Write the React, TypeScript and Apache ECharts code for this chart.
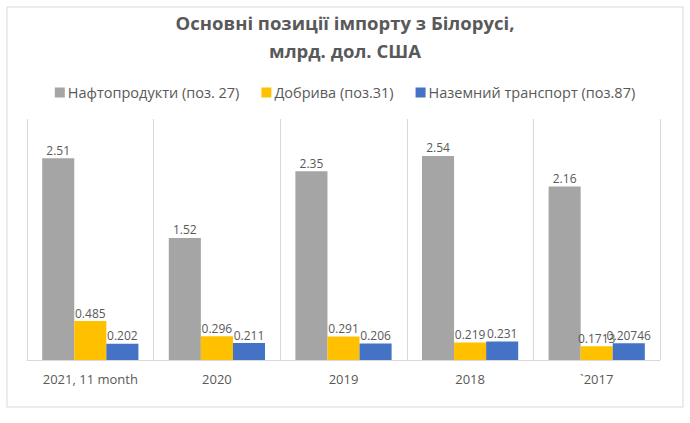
import React, { useEffect, useRef } from "react";
import * as echarts from "echarts";

const categories = ["2021, 11 month", "2020", "2019", "2018", "`2017"];
const oilProducts = [2.51, 1.52, 2.35, 2.54, 2.16];
const fertilizers = [0.485, 0.296, 0.291, 0.219, 0.1713];
const landTransport = [0.202, 0.211, 0.206, 0.231, 0.20746];
const seriesNames = [
  "Нафтопродукти (поз. 27)",
  "Добрива (поз.31)",
  "Наземний транспорт (поз.87)",
];
const colors = ["#A5A5A5", "#FFC000", "#4472C4"];
const FONT = "'Open Sans', 'Noto Sans', sans-serif";

export default function App() {
  const ref = useRef<HTMLDivElement>(null);
  useEffect(() => {
    if (!ref.current) return;
    const chart = echarts.init(ref.current, undefined, { renderer: "svg" });
    const label = {
      show: true,
      position: "top" as const,
      distance: 2,
      color: "#595959",
      fontSize: 12,
      fontFamily: FONT,
    };
    const datasets = [oilProducts, fertilizers, landTransport];
    chart.setOption({
      animation: false,
      backgroundColor: "#ffffff",
      color: colors,
      title: {
        text: "Основні позиції імпорту з Білорусі,\nмлрд. дол. США",
        left: "center",
        top: 3,
        textStyle: {
          fontFamily: FONT,
          fontSize: 18.5,
          fontWeight: "bold",
          color: "#595959",
          lineHeight: 28,
        },
      },
      legend: {
        top: 80,
        left: "center",
        itemWidth: 10,
        itemHeight: 10,
        itemGap: 22,
        icon: "rect",
        textStyle: { fontFamily: FONT, fontSize: 14.5, color: "#595959", padding: [0, 0, 0, -2] },
        data: seriesNames,
      },
      graphic: [
        {
          type: "rect",
          shape: { x: 7, y: 7, width: 676, height: 400 },
          style: { fill: "none", stroke: "#d9d9d9", lineWidth: 1 },
          silent: true,
        },
      ],
      grid: { left: 27, right: 30, top: 119, bottom: 63 },
      xAxis: {
        type: "category",
        data: categories,
        axisLine: { show: true, lineStyle: { color: "#d9d9d9" } },
        axisTick: { show: false },
        splitLine: { show: true, lineStyle: { color: "#d9d9d9" } },
        axisLabel: {
          color: "#595959",
          fontSize: 13,
          fontFamily: FONT,
          margin: 12,
        },
      },
      yAxis: {
        type: "value",
        min: 0,
        max: 3,
        interval: 0.5,
        show: false,
        splitLine: { show: false },
      },
      series: datasets.map((d, i) => ({
        name: seriesNames[i],
        type: "bar",
        data: d,
        barGap: "0%",
        barCategoryGap: "24%",
        label,
      })),
    });
    return () => chart.dispose();
  }, []);
  return (
    <div
      ref={ref}
      style={{ position: "absolute", left: 0, top: 0, width: 690, height: 423 }}
    />
  );
}
